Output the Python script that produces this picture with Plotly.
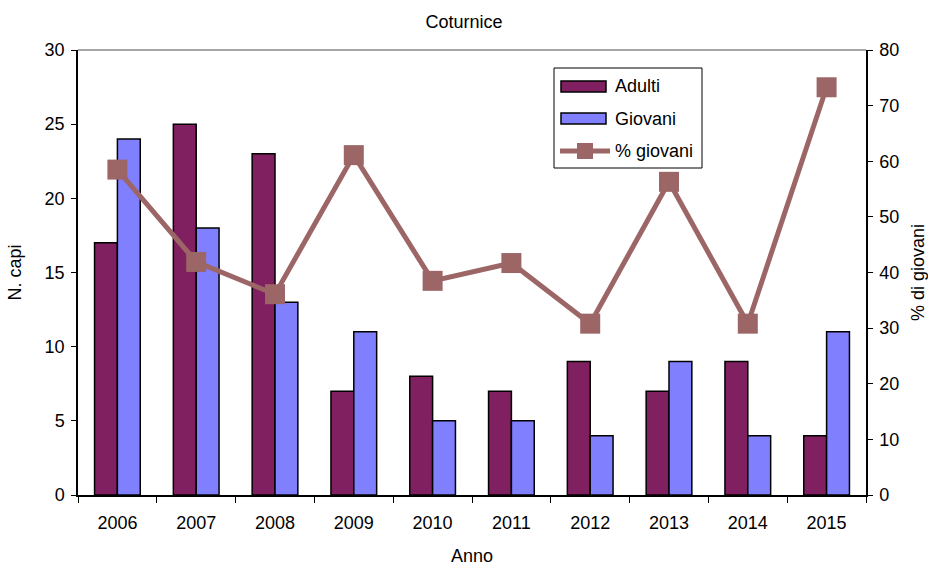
import plotly.graph_objects as go

anni = ["2006", "2007", "2008", "2009", "2010", "2011", "2012", "2013", "2014", "2015"]
adulti = [17, 25, 23, 7, 8, 7, 9, 7, 9, 4]
giovani = [24, 18, 13, 11, 5, 5, 4, 9, 4, 11]
perc_giovani = [58.5, 41.9, 36.1, 61.1, 38.5, 41.7, 30.8, 56.3, 30.8, 73.3]
serie = ["Adulti", "Giovani", "% giovani"]

FONT = "Liberation Sans, Arial, sans-serif"
FS = 18
C_AD, C_GIO, C_PERC = "#802060", "#8080FF", "#9C6666"

W, H = 928, 566
ML, MR, MT, MB = 78, 62, 50, 71
PW, PH = W - ML - MR, H - MT - MB


def px(x):
    return (x - ML) / PW


def py(y):
    return (H - MB - y) / PH


fig = go.Figure()
fig.add_trace(go.Bar(x=anni, y=adulti, name=serie[0],
                     marker=dict(color=C_AD, line=dict(color="black", width=1.5))))
fig.add_trace(go.Bar(x=anni, y=giovani, name=serie[1],
                     marker=dict(color=C_GIO, line=dict(color="black", width=1.5))))
fig.add_trace(go.Scatter(x=anni, y=perc_giovani, name=serie[2], yaxis="y2",
                         mode="lines+markers",
                         line=dict(color=C_PERC, width=5),
                         marker=dict(symbol="square", size=20, color=C_PERC)))

axis_common = dict(showline=True, linecolor="black", linewidth=1.5,
                   ticks="outside", tickcolor="black", showgrid=False,
                   zeroline=False, automargin=False,
                   tickfont=dict(size=FS), title_font=dict(size=FS))

# custom legend (box, swatches, labels)
shapes = [
    dict(type="line", xref="paper", yref="paper", x0=0, x1=1, y0=1, y1=1,
         line=dict(color="#888888", width=1.5)),
    dict(type="rect", xref="paper", yref="paper", x0=px(554), x1=px(702),
         y0=py(68), y1=py(168), line=dict(color="black", width=1), fillcolor="white"),
    dict(type="rect", xref="paper", yref="paper", x0=px(561), x1=px(606),
         y0=py(81), y1=py(92), line=dict(color="black", width=1.5), fillcolor=C_AD),
    dict(type="rect", xref="paper", yref="paper", x0=px(561), x1=px(606),
         y0=py(113), y1=py(124), line=dict(color="black", width=1.5), fillcolor=C_GIO),
    dict(type="line", xref="paper", yref="paper", x0=px(560), x1=px(610),
         y0=py(151), y1=py(151), line=dict(color=C_PERC, width=5)),
    dict(type="rect", xref="paper", yref="paper", x0=px(577), x1=px(593),
         y0=py(143), y1=py(159), line=dict(width=0), fillcolor=C_PERC),
]
annotations = [
    dict(text=serie[i], xref="paper", yref="paper", x=px(613), y=py(yy),
         xanchor="left", yanchor="middle", showarrow=False, font=dict(size=FS))
    for i, yy in enumerate([86, 119, 151])
]

fig.update_layout(
    width=W, height=H,
    margin=dict(l=ML, r=MR, t=MT, b=MB),
    paper_bgcolor="white", plot_bgcolor="white",
    font=dict(family=FONT, size=FS, color="black"),
    title=dict(text="Coturnice", x=0.5, xanchor="center", y=0.961, yanchor="middle",
               font=dict(size=FS)),
    barmode="group", bargap=0.42, bargroupgap=0,
    showlegend=False,
    xaxis=dict(type="category", range=[-0.5, 9.5], title=dict(text="Anno", standoff=20),
               ticklen=6, tickson="boundaries", ticklabelstandoff=11, **axis_common),
    yaxis=dict(title=dict(text="N. capi", standoff=18), range=[0, 30], dtick=5,
               ticklen=5, ticklabelstandoff=3, **axis_common),
    yaxis2=dict(title=dict(text="% di giovani", standoff=13), range=[0, 80], dtick=10,
                overlaying="y", side="right",
                ticklen=5, ticklabelstandoff=3, **axis_common),
    shapes=shapes,
    annotations=annotations,
)

html = fig.to_html(full_html=True, include_plotlyjs=True,
                   config={"displayModeBar": False})
html = html.replace("<body>", "<body style=\"margin:0;padding:0;overflow:hidden\">", 1)
with open("out.html", "w", encoding="utf-8") as f:
    f.write(html)
